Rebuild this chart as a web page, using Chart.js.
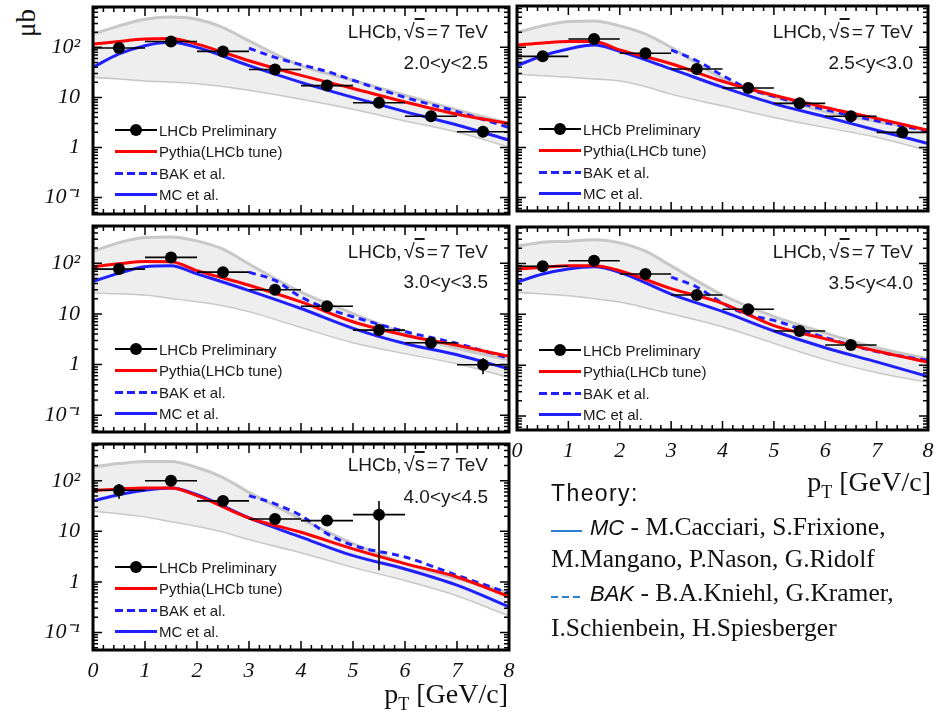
<!DOCTYPE html>
<html>
<head>
<meta charset="utf-8">
<script src="https://cdn.jsdelivr.net/npm/chart.js@4.4.1/dist/chart.umd.min.js"></script>
<style>
  html, body { margin: 0; padding: 0; background: #fff; }
  body { width: 934px; height: 717px; position: relative; overflow: hidden;
         font-family: 'Liberation Sans', Arial, sans-serif; color: #1a1a1a; }
  canvas { position: absolute; }
  .ann { position: absolute; font-size: 19px; line-height: 19px; white-space: nowrap; text-align: right; }
  .ovl { text-decoration: overline; }
  .rad { margin: 0 2px 0 2px; font-size: 20px; }
  .eq { margin: 0 2px 0 0; }
  .legend { position: absolute; font-size: 15px; }
  .legend .row { position: absolute; left: 0; height: 20px; display: flex; align-items: center; white-space: nowrap; }
  .smp { width: 42px; height: 3px; margin-right: 2px; position: relative; flex: none; }
  .smp.data { height: 2px; background: #000; }
  .smp.data::after { content: ''; position: absolute; left: 15px; top: -5px; width: 12px; height: 12px; border-radius: 50%; background: #000; }
  .smp.red { background: #ff0000; }
  .smp.bak { background: repeating-linear-gradient(90deg, #2020ff 0 8px, transparent 8px 12px); }
  .smp.mc { background: #2020ff; }
  .ptitle { position: absolute; font-family: 'Liberation Serif', serif; font-size: 28px; line-height: 28px; white-space: nowrap; color: #111; }
  .ptitle sub { font-size: 18px; vertical-align: -7px; }
  #unit { position: absolute; left: 13px; top: 9px; font-family: 'Liberation Serif', serif; font-size: 27px; line-height: 27px;
          transform: rotate(-90deg); transform-origin: 14px 14px; color: #111; }
  .th { position: absolute; left: 551px; white-space: nowrap; font-family: 'Liberation Serif', serif; font-size: 25.5px; line-height: 28px; color: #111; }
  .th i { font-family: 'Liberation Sans', Arial, sans-serif; font-size: 22px; }
  .th-title { position: absolute; left: 551px; top: 480px; font-size: 23px; line-height: 26px; letter-spacing: 1.4px; color: #111; }
  .th-smp { display: inline-block; width: 31px; height: 2px; vertical-align: middle; margin-right: 8px; position: relative; top: 2px; }
  .th-smp.solid { background: #2f7fd0; }
  .th-smp.dash { background: repeating-linear-gradient(90deg, #2f7fd0 0 7px, transparent 7px 11px); }
</style>
</head>
<body>
<div id="unit">μb</div>

<script>
// --- Valeurs ---
const binCenters = [0.5, 1.5, 2.5, 3.5, 4.5, 5.5, 6.5, 7.5];
const binHalfWidth = 0.5;
const curveX = [0, 0.5, 1, 1.5, 2, 3, 4, 5, 6, 7, 8];
const bandX = [0, 0.5, 1, 1.5, 2, 2.5, 3, 4, 5, 6, 7, 8];
const bakX = [3, 3.5, 4, 4.5, 5, 6, 7, 8];
const yTickValues = [0.1, 1, 10, 100];
const yTickLabels = ['10⁻¹', '1', '10', '10²'];
const xTickStep = 1;
const rapidityLabels = ['2.0<y<2.5', '2.5<y<3.0', '3.0<y<3.5', '3.5<y<4.0', '4.0<y<4.5'];
const seriesNames = ['LHCb Preliminary', 'Pythia(LHCb tune)', 'BAK et al.', 'MC et al.'];

// 2.0<y<2.5
const lhcb20 = [97, 131, 83, 36, 17.2, 7.8, 4.2, 2.06];
const lhcbErr20 = [null, null, null, null, null, null, null, null];
const pythia20 = [116, 131, 146, 151, 116, 54, 27.5, 15, 8.1, 4.6, 3.0];
const mc20 = [40, 74, 108, 126, 100, 43, 20, 10, 5.2, 2.8, 1.4];
const bak20 = [96, 63, 45, 33, 22, 10, 5.2, 2.5];
const bandHi20 = [184, 269, 364, 405, 364, 249, 135, 43, 22, 11, 5.6, 3.0];
const bandLo20 = [26, 24, 22, 21, 19.4, 17, 14.3, 9.5, 6, 3.5, 2.1, 1.05];

// 2.5<y<3.0
const lhcb25 = [66, 147, 76, 37, 15.4, 7.6, 4.2, 2.0];
const lhcbErr25 = [null, null, null, null, null, null, null, null];
const pythia25 = [111, 122, 131, 131, 89, 47, 21, 11, 6.3, 3.8, 2.2];
const mc25 = [43, 68, 93, 111, 83, 37, 16, 7.5, 4.1, 2.2, 1.2];
const bak25 = [89, 54, 27.5, 15, 10.5, 5.7, 3.4, 2.1];
const bandHi25 = [198, 269, 327, 337, 269, 184, 100, 24, 10.2, 5.2, 3.3, 2.2];
const bandLo25 = [30, 28, 26, 24, 22, 17, 12, 7, 4.1, 2.6, 1.65, 0.9];

// 3.0<y<3.5
const lhcb30 = [77, 131, 67, 30, 14.2, 4.8, 2.7, 0.99];
const lhcbErr30 = [null, null, null, null, null, null, null, [0.64, 1.34]];
const pythia30 = [86, 98, 109, 108, 72, 37, 17.3, 7, 3.8, 2.4, 1.45];
const mc30 = [44, 64, 86, 90, 62, 29, 12.8, 5.2, 2.6, 1.56, 0.82];
const bak30 = [67, 46, 21.6, 12.8, 8.8, 4.5, 2.6, 1.34];
const bandHi30 = [172, 257, 323, 333, 278, 191, 97, 27, 10.2, 4.1, 2.1, 1.24];
const bandLo30 = [27, 26, 24.4, 21, 18, 15, 11.5, 5.6, 2.8, 1.7, 1.07, 0.58];

// 3.5<y<4.0
const lhcb35 = [88, 113, 62, 24, 12.6, 4.7, 2.5];
const lhcbErr35 = [null, null, null, null, null, null, null];
const pythia35 = [78, 84, 90, 90, 72, 32, 16.5, 6.0, 3.3, 1.9, 1.15];
const mc35 = [43, 62, 78, 86, 67, 25, 11.4, 4.7, 2.2, 1.16, 0.6];
const bak35 = [54, 34.5, 16.5, 9.8, 7.6, 3.5, 1.85, 1.24];
const bandHi35 = [219, 262, 273, 294, 254, 175, 90, 24, 9.1, 4.3, 2.2, 1.34];
const bandLo35 = [28, 26, 24, 21, 18, 14, 10.6, 5.9, 2.8, 1.33, 0.74, 0.47];

// 4.0<y<4.5
const lhcb40 = [65, 100, 40, 17.6, 16.3, 21.4];
const lhcbErr40 = [[44, 86], null, null, null, null, [1.7, 40]];
const pythia40 = [64, 69, 72, 72, 51, 18.4, 9.6, 4.5, 2.3, 1.25, 0.51];
const mc40 = [40, 53, 65, 72, 53, 18.4, 7.7, 3.3, 1.8, 0.86, 0.32];
const bak40 = [51, 35, 20.5, 9, 5.3, 3.1, 1.35, 0.6];
const bandHi40 = [188, 219, 240, 240, 183, 116, 59, 17.6, 5.7, 2.3, 1.16, 0.6];
const bandLo40 = [26, 23, 20, 16, 13, 10, 7.1, 3.9, 2.0, 1.1, 0.55, 0.22];

// --- Mise en page des panneaux (cadre: gauche, haut, droite, bas) ---
const panels = [
  { frame: [93, 6, 510, 215], yRange: [0.0467, 640], yAxis: true, xAxis: false, annY: [32, 63],
    lhcb: lhcb20, err: lhcbErr20, pythia: pythia20, mc: mc20, bak: bak20, hi: bandHi20, lo: bandLo20 },
  { frame: [517, 5, 929, 212], yRange: [0.0536, 670], yAxis: false, xAxis: false, annY: [32, 63],
    lhcb: lhcb25, err: lhcbErr25, pythia: pythia25, mc: mc25, bak: bak25, hi: bandHi25, lo: bandLo25 },
  { frame: [93, 225, 510, 433], yRange: [0.0465, 547], yAxis: true, xAxis: false, annY: [252, 282],
    lhcb: lhcb30, err: lhcbErr30, pythia: pythia30, mc: mc30, bak: bak30, hi: bandHi30, lo: bandLo30 },
  { frame: [517, 226, 929, 430], yRange: [0.0532, 522], yAxis: false, xAxis: true, annY: [252, 283],
    lhcb: lhcb35, err: lhcbErr35, pythia: pythia35, mc: mc35, bak: bak35, hi: bandHi35, lo: bandLo35 },
  { frame: [93, 443, 510, 650], yRange: [0.0449, 535], yAxis: true, xAxis: true, annY: [465, 497],
    lhcb: lhcb40, err: lhcbErr40, pythia: pythia40, mc: mc40, bak: bak40, hi: bandHi40, lo: bandLo40 }
];

const xy = (xs, ys) => xs.map((x, i) => ({ x: x, y: ys[i] }));

// Cadre épais + graduations intérieures sur les quatre côtés
const framePlugin = {
  id: 'frame',
  afterDraw(chart) {
    const { ctx, chartArea: a, scales: { x, y } } = chart;
    ctx.save();
    ctx.strokeStyle = '#000';
    ctx.lineWidth = 1.5;
    ctx.beginPath();
    for (let k = 0; k <= 40; k++) {
      const v = k * 0.2;
      const px = x.getPixelForValue(v);
      const len = k % 5 === 0 ? 9 : 5;
      ctx.moveTo(px, a.bottom); ctx.lineTo(px, a.bottom - len);
      ctx.moveTo(px, a.top); ctx.lineTo(px, a.top + len);
    }
    for (let e = -2; e <= 3; e++) {
      for (let m = 1; m <= 9; m++) {
        const v = m * Math.pow(10, e);
        if (v < y.min || v > y.max) continue;
        const py = y.getPixelForValue(v);
        const len = m === 1 ? 9 : 5;
        ctx.moveTo(a.left, py); ctx.lineTo(a.left + len, py);
        ctx.moveTo(a.right, py); ctx.lineTo(a.right - len, py);
      }
    }
    ctx.stroke();
    ctx.lineWidth = 3;
    ctx.strokeRect(a.left, a.top, a.width, a.height);
    ctx.restore();
  }
};

// Barres d'erreur (largeur du bin + erreur verticale quand elle dépasse le marqueur)
function makeErrorBars(p) {
  return {
    id: 'errorBars',
    afterDatasetsDraw(chart) {
      const { ctx, scales: { x, y } } = chart;
      ctx.save();
      ctx.strokeStyle = '#000';
      ctx.lineWidth = 1.6;
      ctx.beginPath();
      p.lhcb.forEach((val, i) => {
        const c = binCenters[i];
        const px = x.getPixelForValue(c);
        const py = y.getPixelForValue(val);
        ctx.moveTo(x.getPixelForValue(c - binHalfWidth), py);
        ctx.lineTo(x.getPixelForValue(c + binHalfWidth), py);
        const e = p.err[i];
        if (e) {
          ctx.moveTo(px, y.getPixelForValue(e[0]));
          ctx.lineTo(px, y.getPixelForValue(e[1]));
        }
      });
      ctx.stroke();
      ctx.restore();
    }
  };
}

const curveStyle = { pointRadius: 0, borderWidth: 3, fill: false, cubicInterpolationMode: 'monotone' };

function buildPanel(p, idx) {
  const [l, t, r, b] = p.frame;
  const padL = p.yAxis ? l : 10, padT = 5, padR = 5, padB = p.xAxis ? 45 : 5;
  const cv = document.createElement('canvas');
  cv.width = (r - l) + padL + padR;
  cv.height = (b - t) + padT + padB;
  cv.style.left = (l - padL) + 'px';
  cv.style.top = (t - padT) + 'px';
  document.body.appendChild(cv);

  new Chart(cv, {
    type: 'line',
    data: {
      datasets: [
        { label: seriesNames[0], data: xy(binCenters.slice(0, p.lhcb.length), p.lhcb), showLine: false,
          pointRadius: 6, pointBackgroundColor: '#000', pointBorderWidth: 0 },
        { label: seriesNames[1], data: xy(curveX, p.pythia), borderColor: '#ff0000', ...curveStyle },
        { label: seriesNames[2], data: xy(bakX, p.bak), borderColor: '#2020ff', borderDash: [7, 5], ...curveStyle },
        { label: seriesNames[3], data: xy(curveX, p.mc), borderColor: '#2020ff', ...curveStyle },
        { label: 'band-hi', data: xy(bandX, p.hi), borderColor: '#c8c8c8', backgroundColor: '#eeeeee',
          ...curveStyle, fill: '+1' },
        { label: 'band-lo', data: xy(bandX, p.lo), borderColor: '#c8c8c8', ...curveStyle }
      ]
    },
    options: {
      responsive: false,
      animation: false,
      events: [],
      layout: { padding: { top: padT, right: padR, left: 0, bottom: 0 } },
      plugins: { legend: { display: false }, tooltip: { enabled: false } },
      scales: {
        x: {
          type: 'linear', min: 0, max: 8,
          grid: { display: false, drawTicks: false },
          border: { display: false },
          ticks: { display: p.xAxis, stepSize: xTickStep, padding: 8, color: '#111', maxRotation: 0,
                   font: { family: "'Liberation Serif', serif", size: 22, style: 'italic' } },
          afterFit: s => { s.height = padB; s.paddingLeft = 0; s.paddingRight = 0; }
        },
        y: {
          type: 'logarithmic', min: p.yRange[0], max: p.yRange[1],
          grid: { display: false, drawTicks: false },
          border: { display: false },
          afterBuildTicks: s => { s.ticks = yTickValues.map(v => ({ value: v })); },
          ticks: { display: p.yAxis, padding: 13, color: '#111',
                   font: { family: "'Liberation Serif', serif", size: 22, style: 'italic' },
                   callback: v => { const k = yTickValues.indexOf(v); return k < 0 ? '' : yTickLabels[k]; } },
          afterFit: s => { s.width = padL; s.paddingTop = 0; s.paddingBottom = 0; }
        }
      }
    },
    plugins: [makeErrorBars(p), framePlugin]
  });

  // Annotations en haut à droite
  const rightEdge = l < 300 ? 488 : 913;
  const ann1 = document.createElement('div');
  ann1.className = 'ann';
  ann1.style.right = (934 - rightEdge) + 'px';
  ann1.style.top = (p.annY[0] - 10) + 'px';
  ann1.innerHTML = 'LHCb,<span class="rad">√<span class="ovl">s</span></span><span class="eq">=</span>7 TeV';
  document.body.appendChild(ann1);
  const ann2 = document.createElement('div');
  ann2.className = 'ann';
  ann2.style.right = (934 - rightEdge) + 'px';
  ann2.style.top = (p.annY[1] - 10) + 'px';
  ann2.textContent = rapidityLabels[idx];
  document.body.appendChild(ann2);

  // Légende
  const leg = document.createElement('div');
  leg.className = 'legend';
  leg.style.left = (l + 22) + 'px';
  leg.style.top = t + 'px';
  const kinds = ['data', 'red', 'bak', 'mc'];
  const rowY = [124, 145, 167, 188];
  seriesNames.forEach((name, i) => {
    const row = document.createElement('div');
    row.className = 'row';
    row.style.top = (rowY[i] - 10) + 'px';
    row.innerHTML = '<span class="smp ' + kinds[i] + '"></span>';
    row.appendChild(document.createTextNode(name));
    leg.appendChild(row);
  });
  document.body.appendChild(leg);
}

panels.forEach(buildPanel);
</script>

<div class="ptitle" style="right: 3px; top: 468px;">p<sub>T</sub> [GeV/c]</div>
<div class="ptitle" style="right: 426px; top: 680px;">p<sub>T</sub> [GeV/c]</div>

<div class="th-title">Theory:</div>
<div class="th" style="top: 513px;"><span class="th-smp solid"></span><i>MC</i> - M.Cacciari, S.Frixione,</div>
<div class="th" style="top: 545px;">M.Mangano, P.Nason, G.Ridolf</div>
<div class="th" style="top: 579px;"><span class="th-smp dash"></span><i>BAK</i> - B.A.Kniehl, G.Kramer,</div>
<div class="th" style="top: 614px;">I.Schienbein, H.Spiesberger</div>
</body>
</html>
